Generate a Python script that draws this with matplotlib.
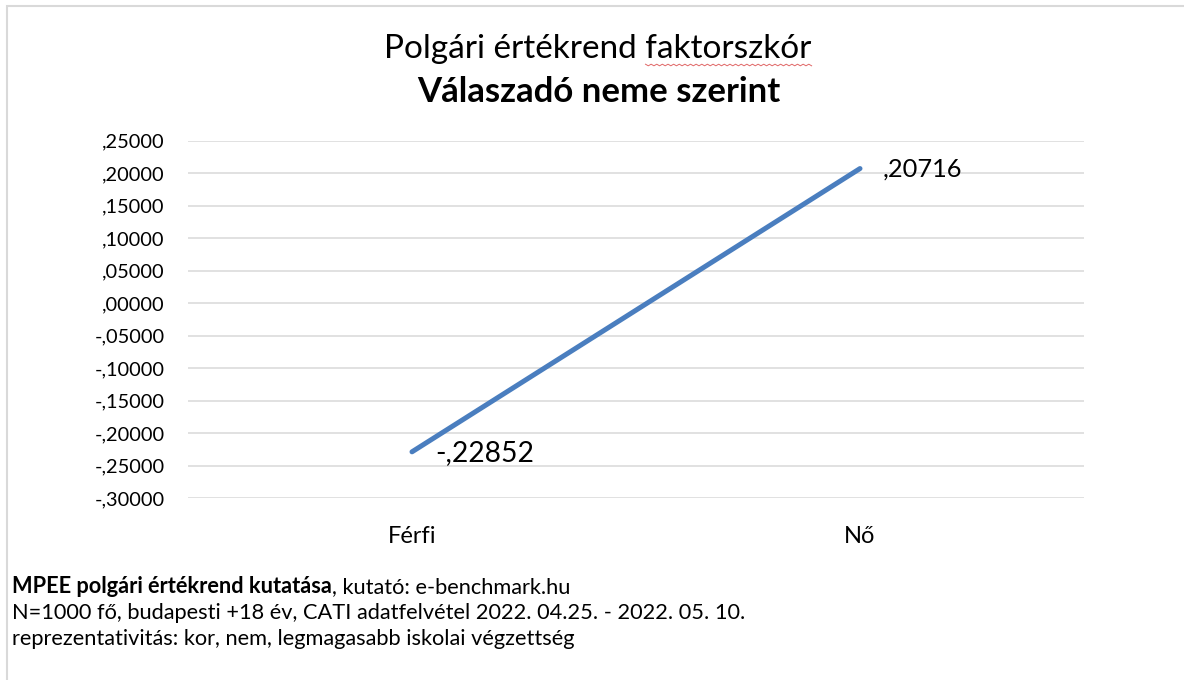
import matplotlib
matplotlib.use("Agg")
import matplotlib.pyplot as plt
from matplotlib.ticker import FuncFormatter, MultipleLocator
from matplotlib.lines import Line2D
from matplotlib.patches import Rectangle
import numpy as np

plt.rcParams['font.family'] = ['Lato', 'DejaVu Sans']

# data
categories = ['Férfi', 'Nő']
scores = [-0.22852, 0.20716]
score_labels = ['-,22852', ',20716']

title = 'Polgári értékrend faktorszkór'
subtitle = 'Válaszadó neme szerint'
footer_bold = 'MPEE polgári értékrend kutatása'
footer_rest = ', kutató: e-benchmark.hu'
footer_lines = ['N=1000 fő, budapesti +18 év, CATI adatfelvétel 2022. 04.25. - 2022. 05. 10.',
                'reprezentativitás: kor, nem, legmagasabb iskolai végzettség']


def excel_fmt(v, pos=None):
    s = f'{abs(v):.5f}'.lstrip('0').replace('.', ',')
    return ('-' if v < -1e-9 else '') + s


W, H = 1184, 680
fig = plt.figure(figsize=(W / 100, H / 100), dpi=100)

# outer chart border (only top/left visible in the crop)
fig.patches.append(Rectangle((7 / W, -0.1), 1.2, 1 - 6 / H + 0.1, transform=fig.transFigure,
                             fill=False, edgecolor='#D9D9D9', linewidth=1.5))

ax = fig.add_axes([188 / W, 1 - 498.3 / H, (1084 - 188) / W, (498.3 - 140.7) / H])
x = np.arange(len(categories))
ax.plot(x, scores, color='#4A7EBF', linewidth=3.6, solid_capstyle='round', zorder=3)

ax.set_xlim(-0.5, 1.5)
ax.set_ylim(-0.30, 0.25)
ax.yaxis.set_major_locator(MultipleLocator(0.05))
ax.yaxis.set_major_formatter(FuncFormatter(excel_fmt))
ax.set_xticks(x)
ax.set_xticklabels(categories)
ax.grid(axis='y', color='#D9D9D9', linewidth=1.1)
ax.set_axisbelow(True)
for s in ax.spines.values():
    s.set_visible(False)
ax.tick_params(axis='both', length=0, colors='#000000')
ax.tick_params(axis='y', pad=17, labelsize=14.4)
ax.tick_params(axis='x', pad=20, labelsize=17)

sizes = [20.3, 18.3]
for xi, yi, lab, fs in zip(x, scores, score_labels, sizes):
    ax.annotate(lab, (xi, yi), xytext=(23, -1), textcoords='offset pixels',
                ha='left', va='center', fontsize=fs)

t = fig.text(0.505, 1 - 58 / H, title, ha='center', va='baseline', fontsize=24)
fig.text(0.506, 1 - 102 / H, subtitle, ha='center', va='baseline', fontsize=25, fontweight='bold')

# red spell-check squiggle under the last word of the title
fig.canvas.draw()
r = fig.canvas.get_renderer()
bb = t.get_window_extent(r)
tmp = fig.text(0, 0, 'faktorszkór', fontsize=24)
wlen = tmp.get_window_extent(r).width
tmp.remove()
xs = np.linspace(bb.x1 - wlen, bb.x1, 60)
ys = bb.y0 - 1 + 0.8 * np.where(np.arange(60) % 2 == 0, 1, -1)
fig.lines.append(Line2D(xs / W, ys / H, transform=fig.transFigure,
                        color='#E06666', linewidth=0.7))

# footer
fsz = 15.7
fb = fig.text(12 / W, 1 - 593 / H, footer_bold, ha='left', va='baseline', fontsize=fsz,
              fontweight='bold')
fig.canvas.draw()
fbb = fb.get_window_extent(r)
fig.text(fbb.x1 / W, 1 - 593 / H, footer_rest, ha='left', va='baseline', fontsize=fsz)
fig.text(12 / W, 1 - 619 / H, footer_lines[0], ha='left', va='baseline', fontsize=fsz)
fig.text(12 / W, 1 - 645 / H, footer_lines[1], ha='left', va='baseline', fontsize=fsz)

fig.savefig('out.png', dpi=100)
